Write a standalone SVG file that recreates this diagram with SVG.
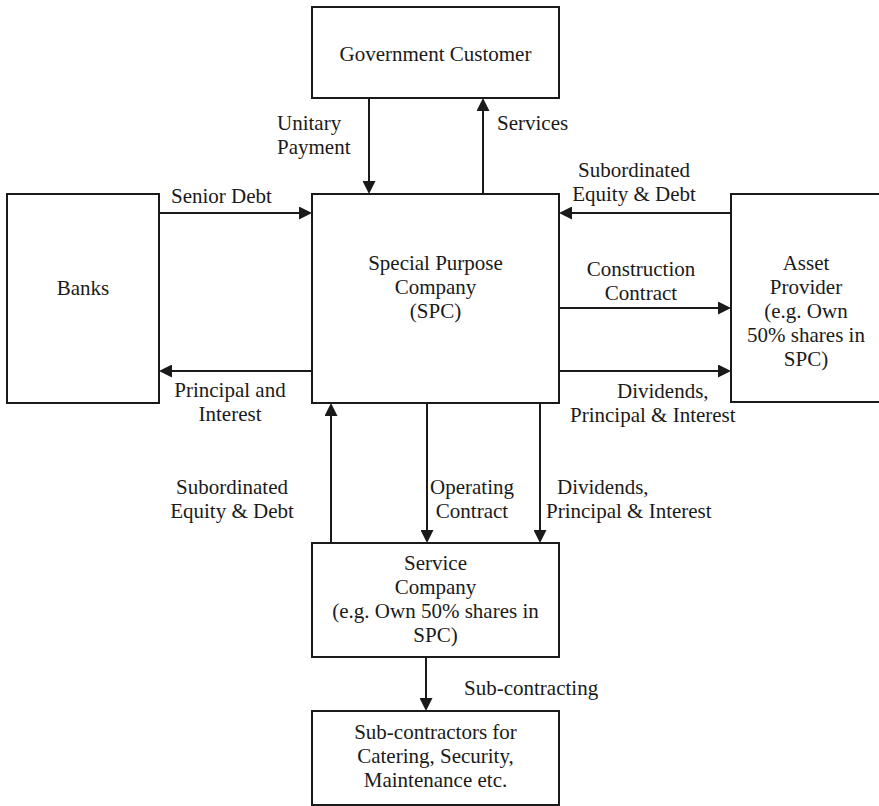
<svg xmlns="http://www.w3.org/2000/svg" width="879" height="806" viewBox="0 0 879 806">
<style>
.box{fill:#fff;stroke:#1a1a1a;stroke-width:2}
.t{font-family:"Liberation Serif","Times New Roman",serif;font-size:21px;fill:#1a1a1a}
.c{text-anchor:middle}
.ln{stroke:#1a1a1a;stroke-width:2;fill:none;marker-end:url(#ah)}
</style>
<defs>
<marker id="ah" markerUnits="userSpaceOnUse" markerWidth="13" markerHeight="13" refX="6" refY="6.5" orient="auto">
<path d="M0,0 L13,6.5 L0,13 z" fill="#1a1a1a"/>
</marker>
</defs>
<rect width="879" height="806" fill="#fff"/>
<g id="connectors">
<line class="ln" x1="369" y1="98" x2="369" y2="187"/>
<line class="ln" x1="483" y1="194" x2="483" y2="105"/>
<line class="ln" x1="159" y1="213" x2="305" y2="213"/>
<line class="ln" x1="312" y1="371" x2="166" y2="371"/>
<line class="ln" x1="731" y1="213" x2="566" y2="213"/>
<line class="ln" x1="559" y1="308" x2="724" y2="308"/>
<line class="ln" x1="559" y1="371" x2="724" y2="371"/>
<line class="ln" x1="331" y1="543" x2="331" y2="410"/>
<line class="ln" x1="427" y1="403" x2="427" y2="536"/>
<line class="ln" x1="540" y1="403" x2="540" y2="536"/>
<line class="ln" x1="426" y1="657" x2="426" y2="704"/>
</g>
<g id="labels">
<text class="t" x="277" y="130">Unitary</text>
<text class="t" x="277" y="154">Payment</text>
<text class="t" x="497" y="130">Services</text>
<text class="t" x="171" y="203">Senior Debt</text>
<text class="t c" x="230" y="397">Principal and</text>
<text class="t c" x="230" y="421">Interest</text>
<text class="t c" x="634" y="177">Subordinated</text>
<text class="t c" x="634" y="201">Equity &amp; Debt</text>
<text class="t c" x="641" y="276">Construction</text>
<text class="t c" x="641" y="300">Contract</text>
<text class="t" x="617" y="398">Dividends,</text>
<text class="t" x="570" y="422">Principal &amp; Interest</text>
<text class="t c" x="232" y="494">Subordinated</text>
<text class="t c" x="232" y="518">Equity &amp; Debt</text>
<text class="t c" x="472" y="494">Operating</text>
<text class="t c" x="472" y="518">Contract</text>
<text class="t" x="557" y="494">Dividends,</text>
<text class="t" x="546" y="518">Principal &amp; Interest</text>
<text class="t" x="464" y="695">Sub-contracting</text>
</g>
<g id="gov">
<rect class="box" x="312" y="7" width="247" height="91"/>
<text class="t c" x="435.5" y="61">Government Customer</text>
</g>
<g id="banks">
<rect class="box" x="7" y="194" width="152" height="209"/>
<text class="t c" x="83" y="295">Banks</text>
</g>
<g id="spc">
<rect class="box" x="312" y="194" width="247" height="209"/>
<text class="t c" x="435.5" y="270">Special Purpose</text>
<text class="t c" x="435.5" y="294">Company</text>
<text class="t c" x="435.5" y="318">(SPC)</text>
</g>
<g id="asset">
<rect class="box" x="731" y="194" width="152" height="208"/>
<text class="t c" x="806" y="270">Asset</text>
<text class="t c" x="806" y="294">Provider</text>
<text class="t c" x="806" y="318">(e.g. Own</text>
<text class="t c" x="806" y="342">50% shares in</text>
<text class="t c" x="806" y="366">SPC)</text>
</g>
<g id="service">
<rect class="box" x="312" y="543" width="247" height="114"/>
<text class="t c" x="435.5" y="570">Service</text>
<text class="t c" x="435.5" y="594">Company</text>
<text class="t c" x="435.5" y="618">(e.g. Own 50% shares in</text>
<text class="t c" x="435.5" y="642">SPC)</text>
</g>
<g id="subcontractors">
<rect class="box" x="312" y="711" width="247" height="94"/>
<text class="t c" x="435.5" y="739">Sub-contractors for</text>
<text class="t c" x="435.5" y="763">Catering, Security,</text>
<text class="t c" x="435.5" y="787">Maintenance etc.</text>
</g>
</svg>
